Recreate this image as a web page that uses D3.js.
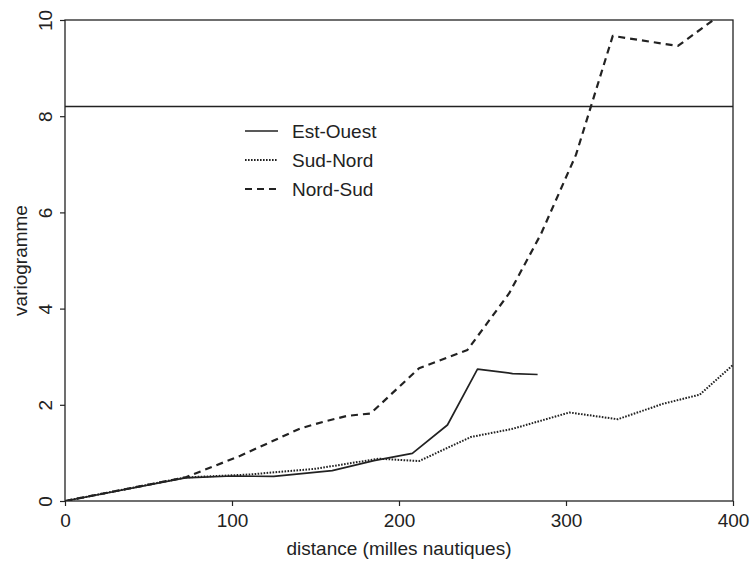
<!DOCTYPE html>
<html><head><meta charset="utf-8">
<script src="https://cdn.jsdelivr.net/npm/d3@7"></script>
<style>body{margin:0;background:#fff}svg{display:block}text{font-family:"Liberation Sans",Arial,sans-serif;fill:#222}</style>
</head><body>
<svg id="c" width="751" height="562"></svg>
<script>
const xTicks = [0, 100, 200, 300, 400];
const yTicks = [0, 2, 4, 6, 8, 10];
const sill = 8.2;
const estOuestDist = [0, 72, 100, 125, 160, 185, 208, 229, 247, 268, 283];
const estOuestVal  = [0, 0.48, 0.52, 0.51, 0.63, 0.84, 0.99, 1.58, 2.74, 2.65, 2.63];
const sudNordDist = [0, 72, 110, 150, 188, 212, 243, 268, 302, 331, 358, 380, 400];
const sudNordVal  = [0, 0.49, 0.55, 0.67, 0.88, 0.83, 1.33, 1.5, 1.84, 1.70, 2.02, 2.21, 2.83];
const nordSudDist = [0, 72, 105, 141, 155, 169, 183, 212, 241, 266, 285, 306, 328, 367, 400];
const nordSudVal  = [0, 0.49, 0.94, 1.51, 1.65, 1.77, 1.82, 2.76, 3.14, 4.32, 5.55, 7.2, 9.67, 9.46, 10.3];
const seriesNames = ["Est-Ouest", "Sud-Nord", "Nord-Sud"];

const FONT = '"Liberation Sans",Arial,sans-serif';
const svg = d3.select("#c");
const L = 65, R = 733, T = 20, B = 501;
const x = d3.scaleLinear().domain([0, 400]).range([L, R]);
const y = d3.scaleLinear().domain([0, 10]).range([B, T]);
const ink = "#222";

svg.append("defs").append("clipPath").attr("id", "clip")
  .append("rect").attr("x", L).attr("y", T).attr("width", R - L).attr("height", B - T);

// axes
const xa = svg.append("g").attr("transform", `translate(0,${B})`)
  .call(d3.axisBottom(x).tickValues(xTicks).tickSize(5).tickPadding(8));
xa.select(".domain").remove();
xa.selectAll("line").attr("stroke", ink).attr("stroke-width", 1.2);
xa.selectAll("text").attr("font-size", 19).style("font-family", FONT).attr("fill", ink);

const ya = svg.append("g").attr("transform", `translate(${L},0)`)
  .call(d3.axisLeft(y).tickValues(yTicks).tickSize(5).tickPadding(0));
ya.select(".domain").remove();
ya.selectAll("line").attr("stroke", ink).attr("stroke-width", 1.2);
ya.selectAll("text").attr("font-size", 19).style("font-family", FONT).attr("fill", ink)
  .attr("text-anchor", "middle").attr("x", 0).attr("dy", 0)
  .attr("transform", "translate(-13,0) rotate(-90)");

// frame
svg.append("rect").attr("x", L).attr("y", T).attr("width", R - L).attr("height", B - T)
  .attr("fill", "none").attr("stroke", ink).attr("stroke-width", 1.3);

// sill line
svg.append("line").attr("x1", x(0)).attr("x2", x(400)).attr("y1", y(sill)).attr("y2", y(sill))
  .attr("stroke", ink).attr("stroke-width", 1.5);

// titles
svg.append("text").attr("x", (L + R) / 2).attr("y", 555).attr("text-anchor", "middle")
  .attr("font-size", 19).text("distance (milles nautiques)");
svg.append("text").attr("transform", `translate(27,${(T + B) / 2}) rotate(-90)`)
  .attr("text-anchor", "middle").attr("font-size", 19).text("variogramme");

const styles = [
  {dash: null, w: 1.7},
  {dash: "1.6,1.4", w: 2},
  {dash: "7,5", w: 2.2}
];
const data = [
  estOuestDist.map((d, i) => [d, estOuestVal[i]]),
  sudNordDist.map((d, i) => [d, sudNordVal[i]]),
  nordSudDist.map((d, i) => [d, nordSudVal[i]])
];
const line = d3.line().x(d => x(d[0])).y(d => y(d[1]));
const g = svg.append("g").attr("clip-path", "url(#clip)");
data.forEach((s, i) => {
  g.append("path").attr("d", line(s)).attr("fill", "none").attr("stroke", ink)
    .attr("stroke-width", styles[i].w).attr("stroke-dasharray", styles[i].dash)
    .attr("stroke-linejoin", "round");
});

// legend
seriesNames.forEach((n, i) => {
  const ly = 131 + i * 29;
  svg.append("line").attr("x1", 245).attr("x2", 278).attr("y1", ly).attr("y2", ly)
    .attr("stroke", ink).attr("stroke-width", styles[i].w).attr("stroke-dasharray", styles[i].dash);
  svg.append("text").attr("x", 292).attr("y", ly + 7).attr("font-size", 19).text(n);
});
</script>
</body></html>
